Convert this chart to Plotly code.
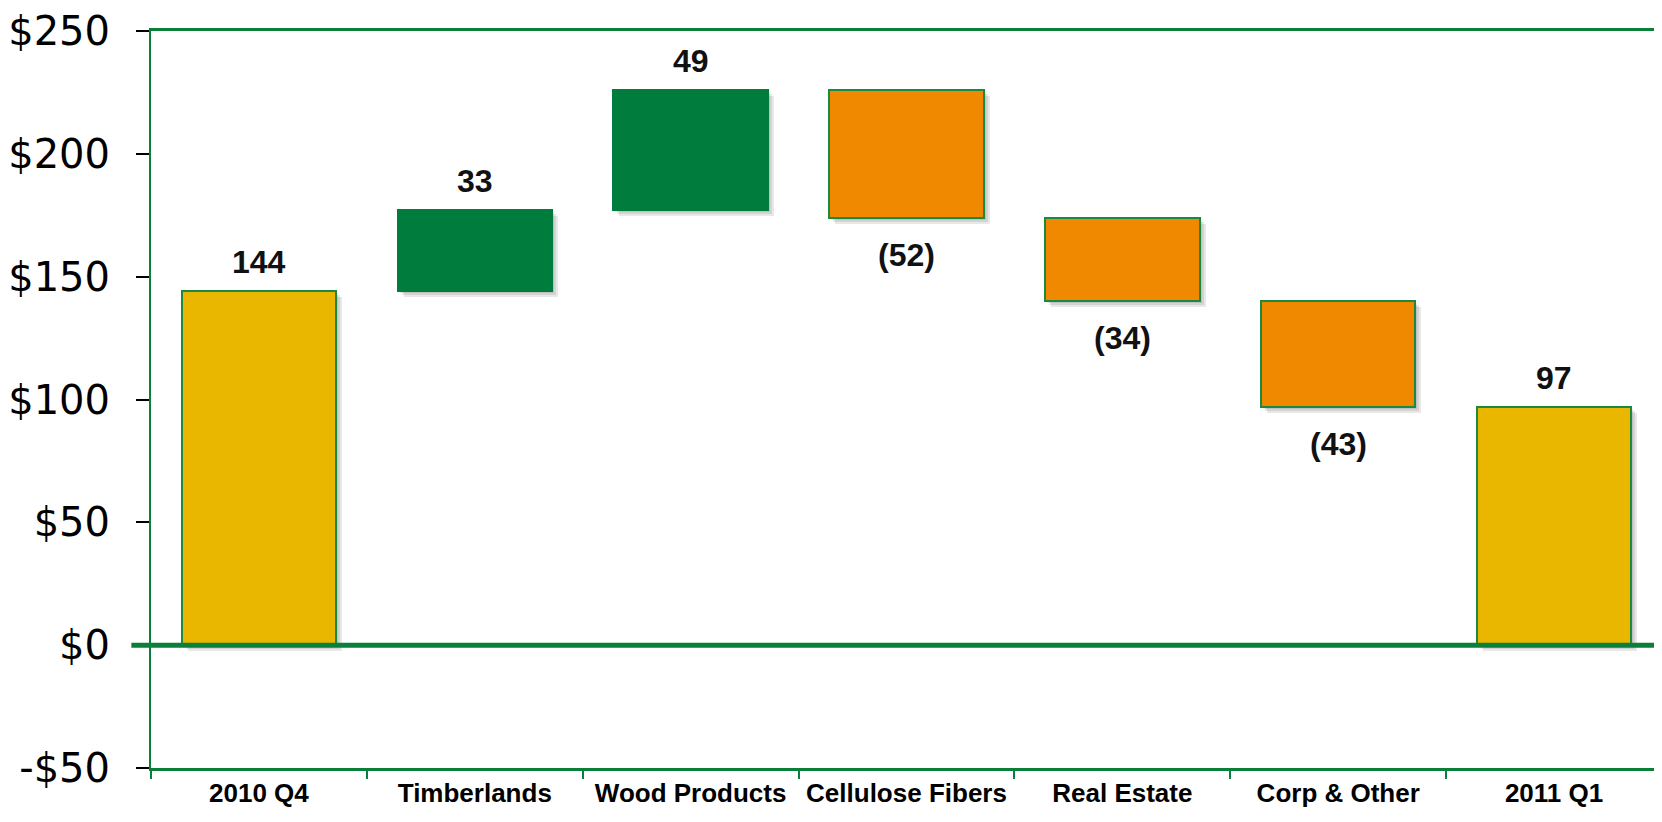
import plotly.graph_objects as go

categories = ["2010 Q4", "Timberlands", "Wood Products", "Cellulose Fibers",
              "Real Estate", "Corp & Other", "2011 Q1"]
changes = [144, 33, 49, -52, -34, -43, 97]
kinds = ["total", "inc", "inc", "dec", "dec", "dec", "total"]
y_tickvals = [-50, 0, 50, 100, 150, 200, 250]
y_ticktext = ["-$50", "$0", "$50", "$100", "$150", "$200", "$250"]

GOLD = "#E9B700"
ORANGE = "#F08800"
GREEN = "#007D3C"
BORDER = "#1B8A3E"
AXIS_GREEN = "#0A7F3A"

# running bases
bases = []
running = 0
for c, k in zip(changes, kinds):
    if k == "total":
        bases.append(0)
        running = c
    else:
        bases.append(running)
        running += c

fill = [GOLD if k == "total" else (GREEN if k == "inc" else ORANGE) for k in kinds]
line_col = [GREEN if k == "inc" else BORDER for k in kinds]
labels = [str(c) if c >= 0 else "(%d)" % abs(c) for c in changes]

W = 0.715
px_x = 1.0 / 216.0   # category units per pixel
px_y = 1.0 / 2.465   # data units per pixel

fig = go.Figure()

# soft drop shadows
for k in (1, 2, 3):
    fig.add_trace(go.Bar(
        x=categories, y=changes,
        base=[b - k * 2 * px_y for b in bases],
        width=W, offset=-W / 2 + k * 2 * px_x,
        marker=dict(color="rgba(0,0,0,0.09)", line=dict(width=0)),
        hoverinfo="skip", showlegend=False,
    ))

fig.add_trace(go.Bar(
    x=categories, y=changes, base=bases,
    width=W, offset=-W / 2,
    marker=dict(color=fill, line=dict(color=line_col, width=2)),
    showlegend=False,
))

lab_font = dict(family="Liberation Sans", size=32, color="#111", weight="bold")
annotations = []
for cat, c, b, lab in zip(categories, changes, bases, labels):
    if c >= 0:
        annotations.append(dict(x=cat, y=b + c, text=lab, showarrow=False,
                                yanchor="bottom", yshift=9, font=lab_font))
    else:
        annotations.append(dict(x=cat, y=b + c, text=lab, showarrow=False,
                                yanchor="top", yshift=-17, font=lab_font))

fig.update_layout(
    width=1654, height=814,
    margin=dict(l=143, r=0, t=21, b=54),
    paper_bgcolor="white", plot_bgcolor="white",
    barmode="overlay", bargap=0,
    annotations=annotations,
    shapes=[dict(type="line", xref="paper", yref="y", x0=-0.013, x1=1, y0=0, y1=0,
                 line=dict(color=AXIS_GREEN, width=5), layer="above")],
    xaxis=dict(
        showgrid=False, showline=True, linecolor=AXIS_GREEN, linewidth=2.5,
        mirror=True, ticks="outside", tickson="boundaries", ticklen=8,
        tickwidth=2, tickcolor=AXIS_GREEN,
        tickfont=dict(family="Liberation Sans", size=26, color="#000", weight="bold"),
        range=[-0.5, 6.5],
    ),
    yaxis=dict(
        range=[-50, 250], tickvals=y_tickvals, ticktext=y_ticktext,
        showgrid=False, zeroline=False, showline=True, linecolor=AXIS_GREEN,
        linewidth=2, ticks="outside", ticklen=13, tickwidth=1.5, tickcolor="#000",
        tickfont=dict(family="DejaVu Sans", size=40, color="#000"),
        ticklabelstandoff=18, ticklabeloverflow="allow",
    ),
)

fig.write_html("out.html")
